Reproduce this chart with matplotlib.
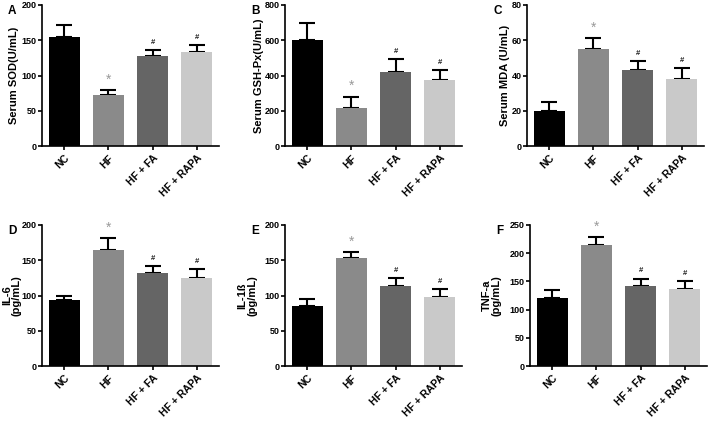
import numpy as np
import matplotlib.pyplot as plt

plt.rcParams['font.family'] = ['Liberation Sans', 'DejaVu Sans']
plt.rcParams['font.weight'] = 'bold'

groups = ['NC', 'HF', 'HF + FA', 'HF + RAPA']
colors = ['#000000', '#8a8a8a', '#656565', '#c9c9c9']

# panel data: means and upper error (mean + SD)
sod = [155, 73, 127, 133]
sod_err = [16, 6, 9, 10]
gsh = [600, 215, 420, 373]
gsh_err = [98, 65, 72, 59]
mda = [20, 55, 43, 38]
mda_err = [5, 6, 5, 6]
il6 = [93, 165, 132, 125]
il6_err = [7, 16, 10, 12]
il1b = [85, 153, 113, 98]
il1b_err = [10, 8, 12, 11]
tnf = [120, 215, 142, 137]
tnf_err = [15, 14, 13, 13]

# significance marks per bar
marks = ['', '*', '#', '#']

panels = [
    ('A', sod, sod_err, 'Serum SOD(U/mL)', 200, 50),
    ('B', gsh, gsh_err, 'Serum GSH-Px(U/mL)', 800, 200),
    ('C', mda, mda_err, 'Serum MDA (U/mL)', 80, 20),
    ('D', il6, il6_err, 'IL-6\n(pg/mL)', 200, 50),
    ('E', il1b, il1b_err, 'IL-1\u00df\n(pg/mL)', 200, 50),
    ('F', tnf, tnf_err, 'TNF-a\n(pg/mL)', 250, 50),
]

W, H = 709, 421
lefts = [42, 285, 527, 42, 285, 530]
tops = [5, 5, 5, 225, 225, 225]
label_off = [-23, -21, -17, -20, -28, -28]
aw, ah = 177, 141

fig = plt.figure(figsize=(7.09, 4.21), dpi=100)
x = np.arange(len(groups))

for i, (letter, vals, errs, ylab, ymax, step) in enumerate(panels):
    ax = fig.add_axes([lefts[i] / W, 1 - (tops[i] + ah) / H, aw / W, ah / H])
    ax.bar(x, vals, width=0.7, color=colors, zorder=2)
    ax.errorbar(x, vals, yerr=[np.zeros(4), errs], fmt='none', ecolor='black',
                elinewidth=1.5, capsize=6, capthick=1.5, zorder=1)
    for j in range(4):
        top = vals[j] + errs[j]
        if marks[j] == '*':
            ax.text(x[j], top + ymax * 0.025, '*', ha='center', va='bottom',
                    fontsize=10, color='#999999', fontweight='normal')
        elif marks[j] == '#':
            ax.text(x[j], top + ymax * 0.03, '#', ha='center', va='bottom',
                    fontsize=5.5, color='#222222')
    ax.set_xlim(-0.5, 3.5)
    ax.set_ylim(0, ymax)
    ax.set_yticks(np.arange(0, ymax + 1, step))
    ax.set_xticks(x)
    ax.set_xticklabels(groups, rotation=45, ha='right', rotation_mode='anchor',
                       fontsize=7.5, fontweight='bold')
    ax.tick_params(axis='y', labelsize=6.5, length=3, width=1.2, pad=1)
    ax.tick_params(axis='x', length=3, width=1.2, pad=2)
    for lab in ax.get_yticklabels():
        lab.set_fontweight('bold')
    ax.spines['top'].set_visible(False)
    ax.spines['right'].set_visible(False)
    ax.spines['left'].set_linewidth(1.2)
    ax.spines['bottom'].set_linewidth(1.2)
    ax.set_ylabel(ylab, fontsize=8, fontweight='bold', linespacing=1.0)
    ax.yaxis.set_label_coords(label_off[i] / aw, 0.5)
    fig.text((lefts[i] - 34) / W, 1 - (tops[i] + 6) / H, letter,
             fontsize=8.5, fontweight='bold', va='center')

fig.savefig('out.png', dpi=100)
